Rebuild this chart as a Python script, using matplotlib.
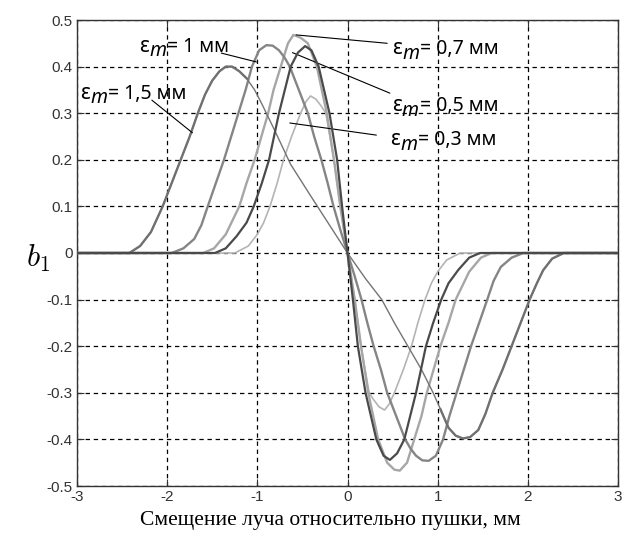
import matplotlib
matplotlib.use("Agg")
import matplotlib.pyplot as plt

# ---- data ----
x_15 = [-3.0, -2.42, -2.3, -2.18, -2.05, -1.95, -1.85, -1.75, -1.66, -1.58, -1.5, -1.42, -1.35, -1.28,
        -1.2, -1.12, -1.03, -0.95, -0.8, -0.63, -0.4, -0.2, 0.0, 0.2, 0.38, 0.52, 0.67, 0.82, 0.95,
        1.03, 1.12, 1.2, 1.28, 1.36, 1.45, 1.53, 1.61, 1.72, 1.82, 1.92, 2.02, 2.1, 2.17, 2.27, 2.4, 3.0]
y_15 = [0, 0, 0.015, 0.045, 0.1, 0.15, 0.2, 0.25, 0.3, 0.34, 0.37, 0.39, 0.40, 0.40,
        0.39, 0.375, 0.35, 0.32, 0.26, 0.19, 0.12, 0.06, 0.0, -0.055, -0.1, -0.15, -0.2, -0.25, -0.3,
        -0.335, -0.375, -0.392, -0.398, -0.395, -0.38, -0.345, -0.3, -0.25, -0.2, -0.15, -0.1, -0.065,
        -0.037, -0.012, 0, 0]

x_10 = [-3.0, -1.95, -1.82, -1.70, -1.62, -1.55, -1.46, -1.37, -1.29, -1.21, -1.13, -1.06, -0.98, -0.9,
        -0.83, -0.76, -0.7, -0.64, -0.54, -0.44, -0.37, -0.29, -0.22, -0.155, -0.08, 0.0,
        0.08, 0.155, 0.22, 0.29, 0.37, 0.44, 0.54, 0.64, 0.7, 0.76, 0.83, 0.9, 0.98, 1.06, 1.13,
        1.21, 1.29, 1.37, 1.46, 1.55, 1.62, 1.70, 1.82, 1.95, 3.0]
y_10 = [0, 0, 0.01, 0.03, 0.06, 0.1, 0.15, 0.2, 0.25, 0.3, 0.35, 0.4, 0.435, 0.446,
        0.445, 0.435, 0.42, 0.4, 0.35, 0.3, 0.25, 0.2, 0.15, 0.1, 0.05, 0.0,
        -0.05, -0.1, -0.15, -0.2, -0.25, -0.3, -0.35, -0.4, -0.42, -0.435, -0.445, -0.446, -0.435, -0.4, -0.35,
        -0.3, -0.25, -0.2, -0.15, -0.1, -0.06, -0.03, -0.01, 0, 0]

x_07 = [-3.0, -1.6, -1.48, -1.35, -1.2, -1.12, -1.03, -0.88, -0.82, -0.74, -0.66, -0.6, -0.52, -0.44,
        -0.34, -0.23, -0.15, -0.08, 0.0, 0.08, 0.15, 0.23, 0.34, 0.44, 0.52, 0.58, 0.66, 0.74, 0.82,
        0.88, 1.03, 1.12, 1.2, 1.35, 1.48, 1.6, 3.0]
y_07 = [0, 0, 0.01, 0.04, 0.1, 0.15, 0.2, 0.3, 0.35, 0.4, 0.45, 0.468, 0.462, 0.45,
        0.4, 0.3, 0.2, 0.1, 0.0, -0.1, -0.2, -0.3, -0.4, -0.45, -0.465, -0.467, -0.45, -0.4, -0.35,
        -0.3, -0.2, -0.15, -0.1, -0.04, -0.01, 0, 0]

x_05 = [-3.0, -1.47, -1.35, -1.23, -1.12, -1.04, -0.95, -0.87, -0.76, -0.63, -0.55, -0.47, -0.4,
        -0.32, -0.2, -0.115, -0.06, 0.0, 0.06, 0.115, 0.2, 0.32, 0.4, 0.47, 0.55, 0.63, 0.76, 0.87,
        0.95, 1.04, 1.12, 1.23, 1.35, 1.47, 3.0]
y_05 = [0, 0, 0.01, 0.036, 0.065, 0.1, 0.15, 0.2, 0.3, 0.4, 0.43, 0.444, 0.435,
        0.4, 0.3, 0.2, 0.1, 0.0, -0.1, -0.2, -0.3, -0.4, -0.435, -0.444, -0.43, -0.4, -0.3, -0.2,
        -0.15, -0.1, -0.065, -0.036, -0.01, 0, 0]

x_03 = [-3.0, -1.25, -1.1, -1.0, -0.93, -0.86, -0.78, -0.71, -0.62, -0.52, -0.46, -0.41, -0.35,
        -0.29, -0.24, -0.15, -0.08, 0.0, 0.08, 0.15, 0.24, 0.29, 0.35, 0.41, 0.46, 0.52, 0.62, 0.71,
        0.78, 0.86, 0.93, 1.0, 1.1, 1.25, 3.0]
y_03 = [0, 0, 0.015, 0.04, 0.065, 0.1, 0.15, 0.2, 0.25, 0.3, 0.325, 0.337, 0.33,
        0.315, 0.3, 0.2, 0.1, 0.0, -0.1, -0.2, -0.3, -0.315, -0.33, -0.337, -0.325, -0.3, -0.25, -0.2,
        -0.15, -0.1, -0.065, -0.04, -0.015, 0, 0]

x_ticks = [-3, -2, -1, 0, 1, 2, 3]
y_ticks = [0.5, 0.4, 0.3, 0.2, 0.1, 0.0, -0.1, -0.2, -0.3, -0.4, -0.5]
y_ticklabels = ['0.5', '0.4', '0.3', '0.2', '0.1', '0', '-0.1', '-0.2', '-0.3', '-0.4', '-0.5']

label_values = ['1,5 мм', '1 мм', '0,7 мм', '0,5 мм', '0,3 мм']
xlabel = 'Смещение луча относительно пушки, мм'

# ---- figure ----
fig = plt.figure(figsize=(6.22, 5.38), dpi=100)
ax = fig.add_axes([77/622, 1-486/538, (618-77)/622, (486-20)/538])

ax.plot(x_03, y_03, color='#b4b4b4', lw=1.2, zorder=3)
ax.plot(x_07, y_07, color='#a6a6a6', lw=1.7, zorder=3)
ax.plot(x_10, y_10, color='#858585', lw=1.7, zorder=3)
ax.plot(x_05, y_05, color='#4a4a4a', lw=1.6, zorder=4)
# 1.5 mm: thin in the middle, thicker outer lobes
ax.plot(x_15, y_15, color='#747474', lw=1.0, zorder=3)
ax.plot(x_15[:16], y_15[:16], color='#707070', lw=1.7, zorder=3)
ax.plot(x_15[29:], y_15[29:], color='#707070', lw=1.7, zorder=3)

ax.set_xlim(-3, 3)
ax.set_ylim(-0.5, 0.5)
ax.set_xticks(x_ticks)
ax.set_xticklabels([str(v) for v in x_ticks])
ax.set_yticks(y_ticks)
ax.set_yticklabels(y_ticklabels)
ax.grid(True, color='black', linestyle=(0, (3.5, 3)), linewidth=0.9)
ax.tick_params(direction='in', length=5, width=0.8, top=True, right=True,
               labelsize=11, colors='#333333', pad=3)
for lab in ax.get_xticklabels() + ax.get_yticklabels():
    lab.set_fontfamily(['Liberation Sans', 'DejaVu Sans'])
for s in ax.spines.values():
    s.set_color('#333333')
    s.set_linewidth(1.0)

fam = ['Noto Sans', 'DejaVu Sans']
FS = 14


def eps_label(x, y, value):
    t1 = ax.text(x, y, 'ε', fontsize=FS + 1, family=fam, va='baseline', ha='left')
    t2 = ax.annotate('m', xy=(1, 0), xycoords=t1, xytext=(0.3, -3), textcoords='offset points',
                     fontsize=FS, family=fam, style='italic', va='bottom', ha='left')
    ax.annotate('= ' + value, xy=(1, 0), xycoords=t2, xytext=(0.5, 3), textcoords='offset points',
                fontsize=FS, family=fam, va='bottom', ha='left')


ann = dict(arrowprops=dict(arrowstyle='-', color='black', lw=0.8, shrinkA=0, shrinkB=0))
# 1.5 mm
eps_label(-2.96, 0.33, label_values[0])
ax.annotate('', xy=(-1.72, 0.258), xytext=(-2.17, 0.328), **ann)
# 1 mm
eps_label(-2.31, 0.432, label_values[1])
ax.annotate('', xy=(-1.01, 0.41), xytext=(-1.40, 0.429), **ann)
# 0.7 mm
eps_label(0.50, 0.426, label_values[2])
ax.annotate('', xy=(-0.57, 0.468), xytext=(0.44, 0.45), **ann)
# 0.5 mm
eps_label(0.49, 0.304, label_values[3])
ax.annotate('', xy=(-0.61, 0.43), xytext=(0.47, 0.343), **ann)
# 0.3 mm
eps_label(0.47, 0.231, label_values[4])
ax.annotate('', xy=(-0.64, 0.279), xytext=(0.32, 0.253), **ann)

fig.text(330/622, 1-521/538, xlabel, fontsize=15.5, family=['Liberation Serif', 'DejaVu Serif'],
         ha='center', va='center')
fig.text(38/622, 1-258/538, '$b_1$', fontsize=22, math_fontfamily='cm', ha='center', va='center')

fig.savefig('out.png', dpi=100)
